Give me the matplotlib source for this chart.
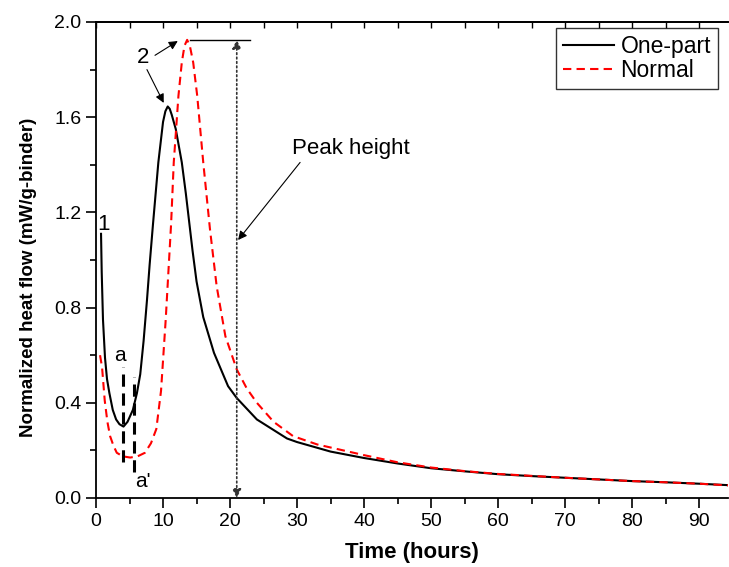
import numpy as np
import matplotlib.pyplot as plt

plt.rcParams['font.family'] = ['Liberation Sans', 'DejaVu Sans']

# One-part binder (black solid)
t_one = [0.75, 0.85, 1.04, 1.34, 1.64, 2.0, 2.5, 3.0, 3.5, 4.1, 4.7, 5.5, 6.1,
         6.6, 7.1, 7.6, 8.0, 8.5, 9.3, 10.0, 10.35, 10.7, 11.0, 11.3, 11.9,
         12.8, 13.4, 13.9, 14.4, 15.0, 16.0, 17.6, 19.7, 21.0, 24.0, 28.5,
         30.0, 35.0, 40.0, 45.0, 50.0, 55.0, 60.0, 65.0, 70.0, 75.0, 80.0,
         85.0, 90.0, 95.0]
q_one = [1.11, 0.95, 0.75, 0.59, 0.50, 0.44, 0.37, 0.33, 0.31, 0.30, 0.32, 0.37,
         0.44, 0.52, 0.66, 0.83, 0.98, 1.15, 1.41, 1.58, 1.625, 1.645, 1.635,
         1.61, 1.55, 1.41, 1.28, 1.16, 1.04, 0.91, 0.76, 0.61, 0.47, 0.42,
         0.33, 0.25, 0.235, 0.195, 0.168, 0.145, 0.125, 0.112, 0.100, 0.092,
         0.085, 0.078, 0.071, 0.066, 0.060, 0.053]

# Normal binder (red dashed)
t_norm = [0.6, 0.9, 1.3, 1.7, 2.1, 2.6, 3.1, 4.0, 5.1, 6.2, 7.3, 8.2, 9.0, 9.7,
          10.4, 11.2, 11.6, 12.3, 12.8, 13.2, 13.6, 14.0, 14.5, 15.1, 16.0,
          17.0, 18.0, 19.3, 21.0, 22.5, 24.0, 26.5, 29.4, 33.0, 40.0, 45.0,
          50.0, 55.0, 60.0, 65.0, 70.0, 75.0, 80.0, 85.0, 90.0, 95.0]
q_norm = [0.60, 0.55, 0.41, 0.32, 0.26, 0.22, 0.19, 0.175, 0.17, 0.175, 0.19,
          0.23, 0.29, 0.45, 0.75, 1.15, 1.41, 1.69, 1.83, 1.90, 1.925, 1.90,
          1.83, 1.69, 1.41, 1.13, 0.89, 0.68, 0.54, 0.46, 0.40, 0.32, 0.26,
          0.225, 0.18, 0.15, 0.128, 0.113, 0.101, 0.093, 0.085, 0.078, 0.071,
          0.066, 0.060, 0.052]

fig = plt.figure(figsize=(7.29, 5.67), dpi=100)
ax = fig.add_axes([0.1317, 0.1217, 0.867, 0.8395])

ax.plot(t_one, q_one, color='black', lw=1.5, label='One-part')
ax.plot(t_norm, q_norm, color='red', lw=1.5, ls=(0, (4, 2.5)), label='Normal')

# peak height marker
peak = max(q_norm)
ax.plot([14.0, 23.0], [peak, peak], color='black', lw=1)
ax.annotate('', xy=(21.0, peak), xytext=(21.0, 0.0),
            arrowprops=dict(arrowstyle='<|-|>', color='#333333', lw=1.2, ls=':',
                            mutation_scale=13, shrinkA=0, shrinkB=0))
ax.text(29.25, 1.47, 'Peak height', fontsize=16, ha='left', va='center')
ax.annotate('', xy=(21.2, 1.084), xytext=(30.45, 1.41),
            arrowprops=dict(arrowstyle='-|>', color='black', lw=0.8,
                            mutation_scale=13, shrinkA=0, shrinkB=0))

# labels 1 and 2
ax.text(0.25, 1.15, '1', fontsize=16, ha='left', va='center')
ax.text(7.0, 1.85, '2', fontsize=16, ha='center', va='center')
ax.annotate('', xy=(10.1, 1.66), xytext=(7.6, 1.80),
            arrowprops=dict(arrowstyle='-|>', color='black', lw=0.8,
                            mutation_scale=13, shrinkA=0, shrinkB=0))
ax.annotate('', xy=(12.2, 1.92), xytext=(8.8, 1.86),
            arrowprops=dict(arrowstyle='-|>', color='black', lw=0.8,
                            mutation_scale=13, shrinkA=0, shrinkB=0))

# a / a' markers
ax.plot([4.1, 4.1], [0.15, 0.55], color='black', lw=2.2, ls=(0, (4, 2.2)))
ax.plot([5.7, 5.7], [0.11, 0.51], color='black', lw=2.2, ls=(0, (4, 2.2)))
ax.text(3.6, 0.60, 'a', fontsize=15, ha='center', va='center')
ax.text(7.0, 0.07, "a'", fontsize=15, ha='center', va='center')

ax.set_xlim(0, 94.3)
ax.set_ylim(0, 2.0)
ax.set_xticks(np.arange(0, 91, 10))
ax.set_xticks(np.arange(5, 95, 10), minor=True)
ax.set_yticks(np.arange(0, 2.01, 0.4))
ax.set_yticks(np.arange(0.2, 2.0, 0.4), minor=True)
ax.yaxis.set_major_formatter(plt.FormatStrFormatter('%.1f'))
ax.tick_params(which='both', direction='out', labelsize=14, width=1.2)
ax.tick_params(which='major', length=7)
ax.tick_params(which='minor', length=4)

top = ax.secondary_xaxis('top')
top.set_xticks(np.arange(0, 95, 5))
top.tick_params(direction='in', length=4, width=1, labeltop=False)

for s in ax.spines.values():
    s.set_linewidth(1.3)
ax.spines['right'].set_visible(False)
top.spines['top'].set_linewidth(1.3)

ax.set_xlabel('Time (hours)', fontsize=16, fontweight='bold', va='top')
ax.xaxis.set_label_coords(0.5, -0.092)
ax.set_ylabel('Normalized heat flow (mW/g-binder)', fontsize=13.5,
              fontweight='bold')
ax.yaxis.set_label_coords(-0.093, 0.463)

leg = ax.legend(loc='upper right', bbox_to_anchor=(0.984, 0.987),
                borderaxespad=0, fontsize=16.5, frameon=True, fancybox=False,
                edgecolor='black', handlelength=2.2, handletextpad=0.3,
                borderpad=0.3, labelspacing=0.05)
leg.get_frame().set_linewidth(1)

fig.savefig('out.png', dpi=100)
